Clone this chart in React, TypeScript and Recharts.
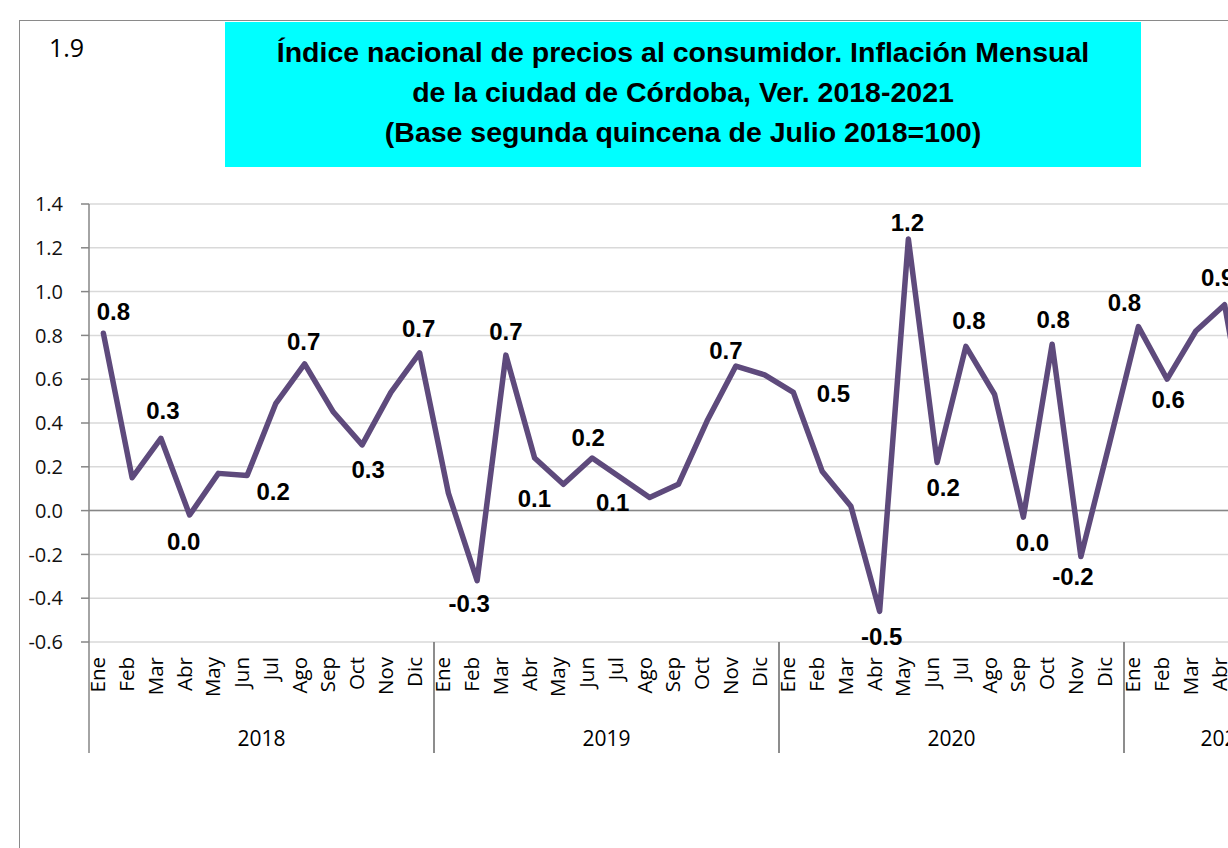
import React from 'react';
import { LineChart, Line, XAxis, YAxis, CartesianGrid, ReferenceLine } from 'recharts';

// ---------- data ----------
const MONTHS = ['Ene', 'Feb', 'Mar', 'Abr', 'May', 'Jun', 'Jul', 'Ago', 'Sep', 'Oct', 'Nov', 'Dic'];
const YEARS = [2018, 2019, 2020, 2021];
const INF_2018 = [0.81, 0.15, 0.33, -0.02, 0.17, 0.16, 0.49, 0.67, 0.45, 0.3, 0.54, 0.72];
const INF_2019 = [0.08, -0.32, 0.71, 0.24, 0.12, 0.24, 0.15, 0.06, 0.12, 0.41, 0.66, 0.62];
const INF_2020 = [0.54, 0.18, 0.02, -0.46, 1.24, 0.22, 0.75, 0.53, -0.03, 0.76, -0.21, 0.31];
const INF_2021: (number | null)[] = [0.84, 0.6, 0.82, 0.94, 0.2, null, null];
const Y_TICKS = [-0.6, -0.4, -0.2, 0, 0.2, 0.4, 0.6, 0.8, 1.0, 1.2, 1.4];
const TITLE_LINES = [
  'Índice nacional de precios al consumidor. Inflación Mensual',
  'de la ciudad de Córdoba, Ver. 2018-2021',
  '(Base segunda quincena de Julio 2018=100)',
];
const CORNER_TEXT = '1.9';

// ---------- layout / style ----------
const PLOT_LEFT = 89;
const PLOT_TOP = 204;
const PLOT_H = 438;
const PLOT_BOTTOM = PLOT_TOP + PLOT_H;
const BAND = 345 / 12;
const LINE_COLOR = '#5E4A7C';
const AXIS_FONT = '"Open Sans", "Noto Sans", sans-serif';
const LABEL_FONT = '"Liberation Sans", Arial, sans-serif';

// label placement (offset of label centre from its point), by month index
const LABEL_OFFSET: Record<number, [number, number]> = {
  0: [10, -22], 2: [2, -28], 3: [-6, 27], 5: [26, 16], 7: [-1, -22], 9: [6, 25], 11: [-1, -24],
  13: [-8, 23], 14: [0, -24], 16: [-29, 14], 17: [-4, -21], 19: [-37, 5], 22: [-10, -16],
  24: [40, 1], 27: [2, 25], 28: [-1, -17], 29: [6, 25], 30: [3, -26], 32: [9, 25], 33: [1, -25],
  34: [-8, 20], 36: [-14, -24], 37: [1, 20], 39: [-7, -27],
};

const SERIES = [INF_2018, INF_2019, INF_2020, INF_2021];
type Row = { id: string; month: string; year: number; mi: number; count: number; value: number | null };
const DATA: Row[] = [];
YEARS.forEach((y, yi) => {
  const vals = SERIES[yi];
  vals.forEach((v, mi) => {
    DATA.push({ id: `${MONTHS[mi]} ${y}`, month: MONTHS[mi], year: y, mi, count: vals.length, value: v });
  });
});
const N = DATA.length;
const CHART_W = PLOT_LEFT + N * BAND + 12;
const CHART_H = 848;

const fmt = (v: number) => (Math.abs(v) < 0.05 ? '0.0' : v.toFixed(1));

function MonthTick(props: any) {
  const { x } = props;
  const idx = props.index ?? props.payload?.index;
  const row = DATA[idx];
  if (!row) return <g />;
  const els: React.ReactNode[] = [
    <text
      key="m"
      transform={`translate(${x + 2},${PLOT_BOTTOM + 15}) rotate(-90)`}
      textAnchor="end"
      fontFamily={AXIS_FONT}
      fontSize={20.5}
      fill="#000"
    >
      {row.month}
    </text>,
  ];
  if (row.mi === 0) {
    const left = x - BAND / 2;
    els.push(
      <line key="s" x1={left} x2={left} y1={PLOT_BOTTOM} y2={PLOT_BOTTOM + 111} stroke="#868686" strokeWidth={1.5} />
    );
    els.push(
      <text
        key="y"
        x={left + (row.count * BAND) / 2}
        y={PLOT_BOTTOM + 104}
        textAnchor="middle"
        fontFamily={AXIS_FONT}
        fontSize={21}
        fill="#000"
      >
        {row.year}
      </text>
    );
  }
  if (row.mi === row.count - 1) {
    const right = x + BAND / 2;
    els.push(
      <line key="e" x1={right} x2={right} y1={PLOT_BOTTOM} y2={PLOT_BOTTOM + 111} stroke="#868686" strokeWidth={1.5} />
    );
  }
  return <g>{els}</g>;
}

function LabelDot(props: any) {
  const { cx, cy, index, value } = props;
  const off = LABEL_OFFSET[index];
  if (!off || cx == null || cy == null || value == null) return <g key={`d${index}`} />;
  return (
    <text
      key={`d${index}`}
      x={cx + off[0]}
      y={cy + off[1]}
      textAnchor="middle"
      dominantBaseline="central"
      fontFamily={LABEL_FONT}
      fontWeight="bold"
      fontSize={24}
      fill="#000"
    >
      {fmt(value)}
    </text>
  );
}

export default function App() {
  return (
    <div style={{ position: 'fixed', left: 0, top: 0, width: 1228, height: 848, overflow: 'hidden', background: '#fff' }}>
      <div
        style={{
          position: 'absolute',
          left: 19,
          top: 20,
          width: 1400,
          height: 1000,
          borderLeft: '1.5px solid #8a8a8a',
          borderTop: '1.5px solid #8a8a8a',
        }}
      />
      <div style={{ position: 'absolute', left: 0, top: 0 }}>
        <LineChart
          width={CHART_W}
          height={CHART_H}
          data={DATA}
          margin={{ top: PLOT_TOP, right: CHART_W - PLOT_LEFT - N * BAND, bottom: 56, left: 0 }}
        >
          <CartesianGrid vertical={false} stroke="#d9d9d9" strokeWidth={1.5} />
          <XAxis
            dataKey="id"
            interval={0}
            height={150}
            axisLine={false}
            tickLine={false}
            padding={{ left: BAND / 2, right: BAND / 2 }}
            tick={<MonthTick />}
          />
          <YAxis
            width={PLOT_LEFT}
            domain={[-0.6, 1.4]}
            ticks={Y_TICKS}
            tickFormatter={(v: number) => v.toFixed(1)}
            tickSize={8}
            tickMargin={18}
            axisLine={{ stroke: '#868686', strokeWidth: 1.5 }}
            tickLine={{ stroke: '#868686', strokeWidth: 1.5 }}
            tick={{ fontFamily: AXIS_FONT, fontSize: 20, fill: '#111' }}
          />
          <ReferenceLine y={0} stroke="#868686" strokeWidth={1.5} />
          <Line
            type="linear"
            dataKey="value"
            stroke={LINE_COLOR}
            strokeWidth={5.5}
            strokeLinejoin="round"
            strokeLinecap="round"
            dot={(p: any) => <LabelDot {...p} key={`d${p.index}`} />}
            activeDot={false}
            isAnimationActive={false}
            connectNulls={false}
          />
        </LineChart>
      </div>
      <div
        style={{
          position: 'absolute',
          left: 225,
          top: 22,
          width: 916,
          height: 145,
          boxSizing: 'border-box',
          paddingTop: 10,
          background: '#00FFFF',
          textAlign: 'center',
          fontFamily: LABEL_FONT,
          fontWeight: 'bold',
          fontSize: 28.5,
          lineHeight: '40px',
          color: '#000',
        }}
      >
        {TITLE_LINES.map((t) => (
          <div key={t}>{t}</div>
        ))}
      </div>
      <div
        style={{
          position: 'absolute',
          left: 49,
          top: 35,
          fontFamily: AXIS_FONT,
          fontSize: 25,
          lineHeight: '25px',
          color: '#000',
        }}
      >
        {CORNER_TEXT}
      </div>
    </div>
  );
}
